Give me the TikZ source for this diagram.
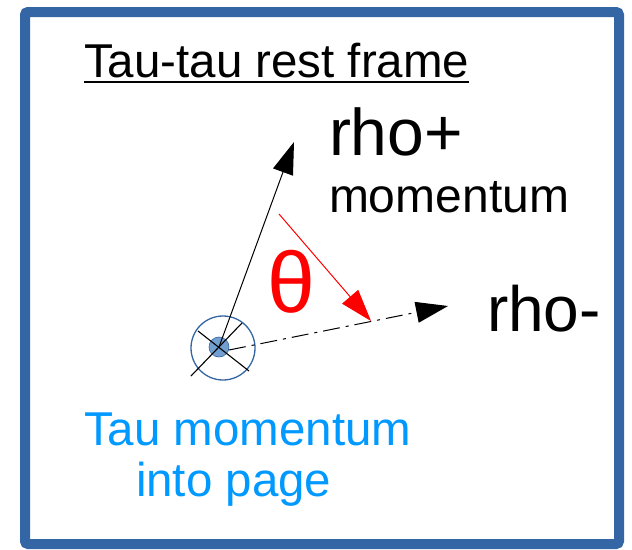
\documentclass[tikz,border=0pt]{standalone}
\usepackage{fontspec}
\setmainfont{Liberation Sans}
\usetikzlibrary{arrows.meta}
\definecolor{frameblue}{HTML}{3465A4}
\definecolor{ballblue}{HTML}{729FCF}
\definecolor{textblue}{HTML}{0099FF}
\tikzset{
  lbl/.style={anchor=base west, inner sep=0pt, outer sep=0pt},
  vec/.style={-{Triangle[length=32pt,width=21pt]}, line width=1pt},
  xline/.style={line width=1.1pt, black},
}
\newcommand{\fs}[1]{\fontsize{#1}{#1}\selectfont}
\begin{document}
\begin{tikzpicture}[x=1pt,y=-1pt]
\useasboundingbox (0,0) rectangle (632,549);
\fill[white] (0,0) rectangle (632,549);
\draw[frameblue, line width=10pt, rounded corners=3pt] (25,12) rectangle (619,544);
% texts
\node[lbl] (title) at (84,77) {\fs{47.5}Tau-tau rest frame};
\draw[line width=2pt] (title.base west) ++(0,5) -- ([yshift=-5pt]title.base east);
\node[lbl] (rhop) at (329,155) {\fs{66}rho+};
\node[lbl] (mom) at (329,212) {\fs{48}momentum};
\node[lbl, text=red] (theta) at (267,312) {\fs{86}θ};
\node[lbl] (rhom) at (487,331) {\fs{64}rho-};
\node[lbl, text=textblue] (tau1) at (84,445) {\fs{47.5}Tau momentum};
\node[lbl, text=textblue] (tau2) at (136,496) {\fs{47.5}into page};
% origin symbol
\node[circle, draw=frameblue, line width=1.3pt, minimum size=64pt, inner sep=0pt] (ring) at (223,348) {};
\coordinate (x1a) at (198,331); \coordinate (x1b) at (249,371);
\coordinate (x2a) at (191,376); \coordinate (x2b) at (242,323);
\node[circle, fill=ballblue, draw=frameblue, line width=0.6pt, minimum size=20pt, inner sep=0pt] (ball) at (219,347) {};
\draw[xline] (x1a) -- (x1b);
\draw[xline] (x2a) -- (x2b);
% arrows
\coordinate (tipP) at (294,142);
\coordinate (startM) at (229,350);
\coordinate (tipM) at (448,306);
\coordinate (startR) at (279,214);
\coordinate (tipR) at (371,321);
\draw[vec] (ball.center) -- (tipP);
\draw[vec, dash pattern=on 17pt off 6pt on 3pt off 6pt] (startM) -- (tipM);
\draw[vec, red] (startR) -- (tipR);
\end{tikzpicture}
\end{document}
